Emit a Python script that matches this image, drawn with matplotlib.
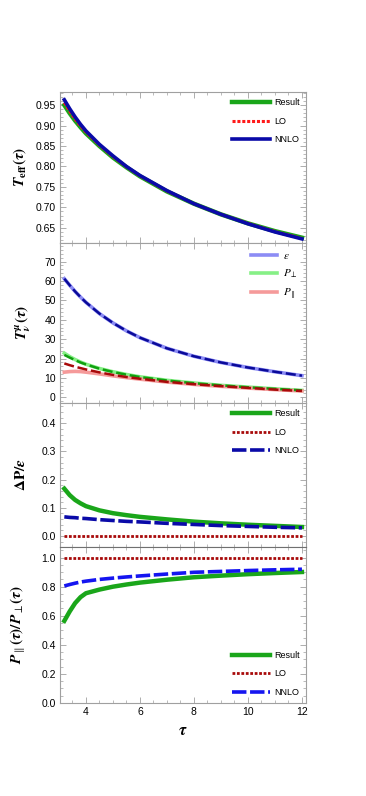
import numpy as np
import matplotlib.pyplot as plt
from matplotlib.ticker import MultipleLocator, AutoMinorLocator

plt.rcParams['font.family'] = ['Liberation Sans', 'DejaVu Sans']
plt.rcParams['mathtext.fontset'] = 'stix'

tau = [3.2, 3.4, 3.6, 3.8, 4.0, 4.5, 5.0, 5.5, 6.0, 7.0, 8.0, 9.0, 10.0, 11.0, 12.0]

# panel 1: effective temperature
teff_res = [0.950, 0.930, 0.912, 0.896, 0.881, 0.850, 0.822, 0.798, 0.776, 0.739, 0.709, 0.683, 0.661, 0.642, 0.626]
teff_lo = [0.956, 0.935, 0.916, 0.899, 0.884, 0.852, 0.824, 0.799, 0.777, 0.740, 0.709, 0.683, 0.661, 0.641, 0.624]
teff_nnlo = [0.963, 0.941, 0.921, 0.903, 0.887, 0.854, 0.826, 0.800, 0.778, 0.741, 0.709, 0.683, 0.660, 0.640, 0.623]

# panel 2: energy-momentum tensor components
eps_res = [61.2, 57.8, 54.6, 51.7, 49.0, 43.2, 38.4, 34.3, 30.8, 25.3, 21.2, 18.0, 15.4, 13.2, 11.2]
eps_nnlo = [61.2, 57.8, 54.6, 51.7, 49.0, 43.2, 38.4, 34.3, 30.8, 25.3, 21.2, 18.0, 15.4, 13.2, 11.2]
pt_res = [22.8, 21.0, 19.5, 18.2, 17.1, 14.9, 13.2, 11.8, 10.6, 8.8, 7.4, 6.2, 5.3, 4.4, 3.6]
pt_nnlo = [21.9, 20.5, 19.2, 18.0, 17.0, 14.8, 13.1, 11.7, 10.5, 8.7, 7.3, 6.2, 5.2, 4.4, 3.6]
pl_res = [13.0, 13.3, 13.4, 13.3, 13.0, 12.1, 11.1, 10.2, 9.4, 7.9, 6.7, 5.7, 4.8, 4.0, 3.3]
pl_nnlo = [17.5, 16.6, 15.8, 15.1, 14.4, 12.9, 11.6, 10.5, 9.6, 8.0, 6.8, 5.8, 4.9, 4.0, 3.3]

# panel 3: pressure anisotropy
dp_res = [0.168, 0.145, 0.128, 0.116, 0.106, 0.091, 0.081, 0.074, 0.068, 0.059, 0.051, 0.045, 0.040, 0.036, 0.032]
dp_lo = [0.0] * 15
dp_nnlo = [0.068, 0.066, 0.065, 0.063, 0.062, 0.058, 0.055, 0.052, 0.050, 0.045, 0.041, 0.037, 0.034, 0.031, 0.029]

# panel 4: pressure ratio
r_res = [0.565, 0.630, 0.687, 0.728, 0.755, 0.780, 0.800, 0.815, 0.828, 0.848, 0.865, 0.876, 0.886, 0.894, 0.901]
r_lo = [1.0] * 15
r_nnlo = [0.805, 0.815, 0.824, 0.832, 0.838, 0.850, 0.859, 0.867, 0.874, 0.887, 0.899, 0.905, 0.911, 0.916, 0.920]

green = '#1aa61a'
W, H = 366, 796
fig = plt.figure(figsize=(W / 100, H / 100), dpi=100)

def add_panel(top, bottom):
    ax = fig.add_axes([60 / W, 1 - bottom / H, 246 / W, (bottom - top) / H])
    for s in ax.spines.values():
        s.set_color('#a0a0a0')
        s.set_linewidth(0.8)
    ax.set_xlim(3.04, 12.15)
    ax.xaxis.set_major_locator(MultipleLocator(2))
    ax.xaxis.set_minor_locator(MultipleLocator(0.5))
    ax.tick_params(which='both', direction='in', top=True, right=True, color='#a0a0a0', labelsize=7.5, pad=3)
    ax.tick_params(which='major', length=4, width=0.6)
    ax.tick_params(which='minor', length=2, width=0.5)
    ax.tick_params(axis='x', labelbottom=False)
    return ax

leg_kw = dict(frameon=False, fontsize=6.5, handlelength=4.2, handletextpad=0.5,
              labelspacing=1.05, borderaxespad=0.3)

ax1 = add_panel(92, 243)
ax1.plot(tau, teff_res, color=green, lw=3.2, label='Result')
ax1.plot(tau, teff_lo, color='#ff1a1a', lw=2.2, ls=(0, (1, 0.6)), label='LO')
ax1.plot(tau, teff_nnlo, color='#0a0aa8', lw=2.6, label='NNLO')
ax1.set_ylim(0.613, 0.982)
ax1.yaxis.set_major_locator(MultipleLocator(0.05))
ax1.yaxis.set_minor_locator(AutoMinorLocator(5))
ax1.set_ylabel(r'$\mathbfit{T}_{\mathbf{eff}}\mathbf{(}\mathbfit{\tau}\mathbf{)}$', fontsize=11)
ax1.yaxis.set_label_coords(-0.13, 0.5)
ax1.legend(loc='upper right', **leg_kw)

ax2 = add_panel(243, 403)
ax2.plot(tau, eps_res, color='#8c8cf5', lw=2.6, label=r'$\epsilon$')
ax2.plot(tau, pt_res, color='#86f086', lw=2.6, label=r'$P_\perp$')
ax2.plot(tau, pl_res, color='#f59a9a', lw=2.6, label=r'$P_\parallel$')
ax2.plot(tau, eps_nnlo, color='#0a0a99', lw=1.8, ls=(0, (4, 1.5)))
ax2.plot(tau, pt_nnlo, color='#10a010', lw=1.8, ls=(0, (4, 1.5)))
ax2.plot(tau, pl_nnlo, color='#a80a0a', lw=1.8, ls=(0, (4, 1.5)))
ax2.set_ylim(-2.9, 79.6)
ax2.yaxis.set_major_locator(MultipleLocator(10))
ax2.yaxis.set_minor_locator(AutoMinorLocator(5))
ax2.set_ylabel(r'$\mathbfit{T}^{\,\mathbfit{\mu}}_{\mathbfit{\nu}}\mathbf{(}\mathbfit{\tau}\mathbf{)}$', fontsize=11)
ax2.yaxis.set_label_coords(-0.11, 0.5)
ax2.legend(loc='upper right', frameon=False, fontsize=8, handlelength=2.3, handletextpad=0.6,
           labelspacing=0.6, borderaxespad=0.3)

ax3 = add_panel(403, 547)
ax3.plot(tau, dp_res, color=green, lw=3.2, label='Result')
ax3.plot(tau, dp_lo, color='#a80a0a', lw=2.0, ls=(0, (1, 0.6)), label='LO')
ax3.plot(tau, dp_nnlo, color='#0a0aa8', lw=2.6, ls=(0, (4, 1)), label='NNLO')
ax3.set_ylim(-0.039, 0.472)
ax3.yaxis.set_major_locator(MultipleLocator(0.1))
ax3.yaxis.set_minor_locator(AutoMinorLocator(5))
ax3.set_ylabel(r'$\mathbf{\Delta P/}\mathbfit{\epsilon}$', fontsize=11)
ax3.yaxis.set_label_coords(-0.13, 0.5)
ax3.legend(loc='upper right', **leg_kw)

ax4 = add_panel(547, 703)
ax4.spines['top'].set_color('#707070')
ax4.plot(tau, r_res, color=green, lw=3.2, label='Result')
ax4.plot(tau, r_lo, color='#a80a0a', lw=2.0, ls=(0, (1, 0.6)), label='LO')
ax4.plot(tau, r_nnlo, color='#1515f0', lw=2.6, ls=(0, (4, 1)), label='NNLO')
ax4.set_ylim(0, 1.073)
ax4.yaxis.set_major_locator(MultipleLocator(0.2))
ax4.yaxis.set_minor_locator(AutoMinorLocator(4))
ax4.tick_params(axis='x', labelbottom=True)
ax4.set_ylabel(r'$\mathbfit{P}_{\parallel}\mathbf{(}\mathbfit{\tau}\mathbf{)/}\mathbfit{P}_{\perp}\mathbf{(}\mathbfit{\tau}\mathbf{)}$', fontsize=11)
ax4.yaxis.set_label_coords(-0.13, 0.5)
ax4.set_xlabel(r'$\mathbfit{\tau}$', fontsize=12, labelpad=4)
ax4.legend(loc='lower right', **leg_kw)

fig.savefig('out.png', dpi=100)
